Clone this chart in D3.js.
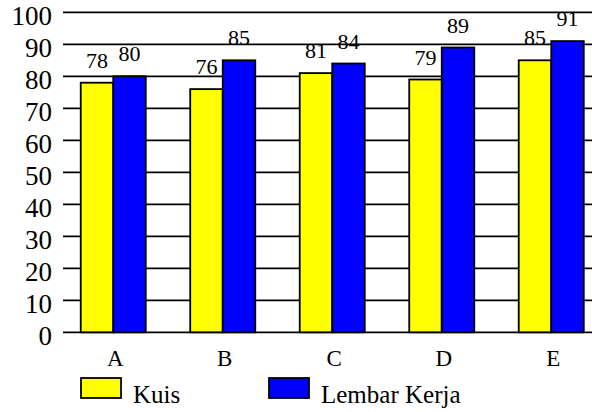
<!DOCTYPE html>
<html>
<head>
<meta charset="utf-8">
<script src="https://cdn.jsdelivr.net/npm/d3@7/dist/d3.min.js"></script>
<style>
  html, body { margin: 0; padding: 0; background: #fff; }
  svg { display: block; }
</style>
</head>
<body>
<svg id="chart" width="592" height="412"></svg>
<script>
// Scores per group
const categories = ["A", "B", "C", "D", "E"];
const seriesNames = ["Kuis", "Lembar Kerja"];
const kuis = [78, 76, 81, 79, 85];
const lembarKerja = [80, 85, 84, 89, 91];
const yTicks = [0, 10, 20, 30, 40, 50, 60, 70, 80, 90, 100];
const seriesColors = ["#FFFF00", "#0000FF"];

const FONT = "Liberation Serif";

const svg = d3.select("#chart");

const plot = { left: 63, top: 12.3, bottom: 332.3, right: 620 };

const y = d3.scaleLinear().domain([0, 100]).range([plot.bottom, plot.top]);
const x0 = d3.scaleBand().domain(categories).range([58.5, 606]).padding(0);
const bw = x0.bandwidth();
const x1 = d3.scaleBand().domain(seriesNames).range([bw * 0.203, bw * 0.797]).padding(0);
const color = d3.scaleOrdinal().domain(seriesNames).range(seriesColors);

// Horizontal gridlines
svg.append("g")
  .selectAll("line")
  .data(yTicks)
  .join("line")
  .attr("x1", plot.left)
  .attr("x2", plot.right)
  .attr("y1", d => y(d))
  .attr("y2", d => y(d))
  .attr("stroke", "#000")
  .attr("stroke-width", 1.8);

// Y tick labels
svg.append("g")
  .selectAll("text")
  .data(yTicks)
  .join("text")
  .attr("x", 52)
  .attr("y", d => y(d) + 13)
  .attr("text-anchor", "end")
  .attr("font-family", FONT)
  .attr("font-size", 27)
  .attr("fill", "#000")
  .text(d => d);

const rows = categories.map((c, i) => ({
  cat: c,
  values: [
    { key: seriesNames[0], value: kuis[i] },
    { key: seriesNames[1], value: lembarKerja[i] }
  ]
}));

const groups = svg.append("g")
  .selectAll("g")
  .data(rows)
  .join("g")
  .attr("transform", d => `translate(${x0(d.cat)},0)`);

groups.selectAll("rect")
  .data(d => d.values)
  .join("rect")
  .attr("x", d => x1(d.key))
  .attr("width", x1.bandwidth())
  .attr("y", d => y(d.value))
  .attr("height", d => y(0) - y(d.value))
  .attr("fill", d => color(d.key))
  .attr("stroke", "#000")
  .attr("stroke-width", 1.8);

// Value labels above bars
groups.selectAll("text")
  .data(d => d.values)
  .join("text")
  .attr("x", d => x1(d.key) + x1.bandwidth() / 2)
  .attr("y", d => y(d.value) - 15)
  .attr("text-anchor", "middle")
  .attr("font-family", FONT)
  .attr("font-size", 22)
  .attr("fill", "#000")
  .text(d => d.value);

// Category labels
svg.append("g")
  .selectAll("text")
  .data(categories)
  .join("text")
  .attr("x", d => x0(d) + bw / 2 + 2)
  .attr("y", 366)
  .attr("text-anchor", "middle")
  .attr("font-family", FONT)
  .attr("font-size", 23)
  .attr("fill", "#000")
  .text(d => d);

// Legend
const legendX = [81, 269];
const legend = svg.append("g")
  .selectAll("g")
  .data(seriesNames)
  .join("g")
  .attr("transform", (d, i) => `translate(${legendX[i]},378)`);

legend.append("rect")
  .attr("width", 40)
  .attr("height", 20)
  .attr("fill", d => color(d))
  .attr("stroke", "#000")
  .attr("stroke-width", 1.8);

legend.append("text")
  .attr("x", 52)
  .attr("y", 25)
  .attr("font-family", FONT)
  .attr("font-size", 25)
  .attr("fill", "#000")
  .text(d => d);
</script>
</body>
</html>
